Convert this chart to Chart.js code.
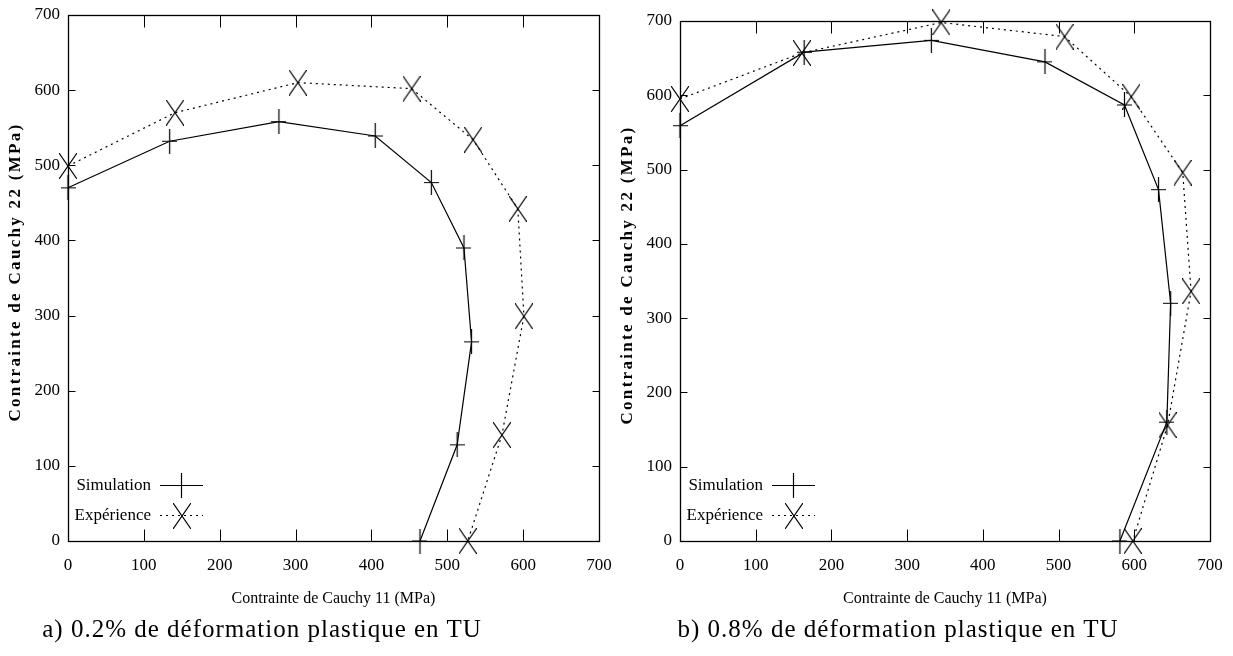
<!DOCTYPE html>
<html>
<head>
<meta charset="utf-8">
<script src="https://cdn.jsdelivr.net/npm/chart.js@4/dist/chart.umd.min.js"></script>
<style>
  body { margin: 0; background: #fff; }
  #wrap { position: relative; width: 1233px; height: 656px; overflow: hidden; }
  canvas { position: absolute; top: 0; }
  .caption { position: absolute; top: 615px; font: 25px "Liberation Serif", serif; letter-spacing: 1px; color: #000; white-space: nowrap; transform: translateX(-50%); }
</style>
</head>
<body>
<div id="wrap">
  <canvas id="chartA" width="612" height="656" style="left:0"></canvas>
  <canvas id="chartB" width="621" height="656" style="left:612px"></canvas>
  <div class="caption" style="left:262px">a) 0.2% de déformation plastique en TU</div>
  <div class="caption" style="left:898px">b) 0.8% de déformation plastique en TU</div>
</div>
<script>
// a) 0.2 % plastic strain
var simA_x = [0, 134, 278, 405, 479, 522, 532, 513, 464];
var simA_y = [470, 532, 558, 539, 477, 390, 265, 128, 0];
var expA_x = [0, 141, 303, 453, 534, 593, 601, 572, 527];
var expA_y = [499, 570, 610, 602, 534, 442, 299, 141, 0];
// b) 0.8 % plastic strain
var simB_x = [0, 164, 332, 482, 587, 632, 648, 643, 581];
var simB_y = [559, 658, 674, 645, 587, 473, 320, 160, 0];
var expB_x = [0, 161, 345, 508, 596, 664, 675, 644, 598];
var expB_y = [595, 657, 698, 679, 598, 496, 336, 156, 0];

var tickValues = [0, 100, 200, 300, 400, 500, 600, 700];
var seriesNames = ['Simulation', 'Expérience'];
var xTitle = 'Contrainte de Cauchy 11 (MPa)';
var yTitle = 'Contrainte de Cauchy 22 (MPa)';

function pts(xs, ys) {
  return xs.map(function (x, i) { return { x: x, y: ys[i] }; });
}

// gnuplot-like markers (the figure was stretched vertically)
function plusMark() {
  var c = document.createElement('canvas');
  c.width = 15; c.height = 25;
  var g = c.getContext('2d');
  g.strokeStyle = '#000'; g.lineWidth = 1.2;
  g.beginPath();
  g.moveTo(0, 12.5); g.lineTo(15, 12.5);
  g.moveTo(7.5, 0); g.lineTo(7.5, 25);
  g.stroke();
  return c;
}
function crossMark() {
  var c = document.createElement('canvas');
  c.width = 18; c.height = 26;
  var g = c.getContext('2d');
  g.strokeStyle = '#000'; g.lineWidth = 1.2;
  g.beginPath();
  g.moveTo(0, 0); g.lineTo(18, 26);
  g.moveTo(18, 0); g.lineTo(0, 26);
  g.stroke();
  return c;
}
var PLUS = plusMark();
var CROSS = crossMark();

// frame with inward ticks on all four sides
var frame = {
  id: 'frame',
  beforeDatasetsDraw: function (chart) {
    var ctx = chart.ctx, a = chart.chartArea;
    var xs = chart.scales.x, ys = chart.scales.y;
    var l = Math.round(a.left) + 0.5, r = Math.round(a.right) + 0.5;
    var t = Math.round(a.top) + 0.5, b = Math.round(a.bottom) + 0.5;
    ctx.save();
    ctx.strokeStyle = '#000';
    ctx.lineWidth = 1.3;
    ctx.strokeRect(l, t, r - l, b - t);
    ctx.lineWidth = 1;
    ctx.beginPath();
    tickValues.slice(1, -1).forEach(function (v) {
      var px = Math.round(xs.getPixelForValue(v)) + 0.5;
      ctx.moveTo(px, b); ctx.lineTo(px, b - 12);
      ctx.moveTo(px, t); ctx.lineTo(px, t + 12);
      var py = Math.round(ys.getPixelForValue(v)) + 0.5;
      ctx.moveTo(l, py); ctx.lineTo(l + 7, py);
      ctx.moveTo(r, py); ctx.lineTo(r - 7, py);
    });
    ctx.stroke();
    ctx.restore();
  }
};

// rotated, letter-spaced y title
var yLabel = {
  id: 'yLabel',
  afterDraw: function (chart) {
    var ctx = chart.ctx, a = chart.chartArea;
    ctx.save();
    ctx.translate(a.left - 52, (a.top + a.bottom) / 2 - 6);
    ctx.rotate(-Math.PI / 2);
    ctx.font = 'bold 17px "Liberation Serif"';
    ctx.letterSpacing = '2.3px';
    ctx.fillStyle = '#000';
    ctx.textAlign = 'center';
    ctx.textBaseline = 'middle';
    ctx.fillText(yTitle, 0, 0);
    ctx.restore();
  }
};

// gnuplot style key: text, then line sample with marker
var key = {
  id: 'key',
  afterDraw: function (chart) {
    var ctx = chart.ctx, a = chart.chartArea;
    chart.data.datasets.forEach(function (ds, i) {
      var y = Math.round(a.bottom - 56 + i * 30) + 0.5;
      ctx.save();
      ctx.font = '17px "Liberation Serif"';
      ctx.fillStyle = '#000';
      ctx.textAlign = 'right';
      ctx.textBaseline = 'middle';
      ctx.fillText(ds.label, a.left + 83, y);
      ctx.strokeStyle = '#000';
      ctx.lineWidth = ds.borderWidth;
      ctx.setLineDash(ds.borderDash || []);
      ctx.beginPath();
      ctx.moveTo(a.left + 92, y); ctx.lineTo(a.left + 135, y);
      ctx.stroke();
      var m = ds.pointStyle;
      ctx.drawImage(m, Math.round(a.left + 113.5 - m.width / 2), Math.round(y - m.height / 2));
      ctx.restore();
    });
  }
};

function makeChart(id, sim, exp, rightPad, topPad) {
  new Chart(document.getElementById(id), {
    type: 'scatter',
    data: {
      datasets: [{
        label: seriesNames[0],
        data: sim,
        showLine: true,
        borderColor: '#000',
        borderWidth: 1.2,
        pointStyle: PLUS,
        pointRadius: 8,
        clip: false
      }, {
        label: seriesNames[1],
        data: exp,
        showLine: true,
        borderColor: '#000',
        borderWidth: 1.2,
        borderDash: [2, 4],
        pointStyle: CROSS,
        pointRadius: 8,
        clip: false
      }]
    },
    options: {
      responsive: false,
      animation: false,
      devicePixelRatio: 1,
      layout: { padding: { top: topPad, right: rightPad, bottom: 44, left: 0 } },
      plugins: { legend: { display: false }, tooltip: { enabled: false } },
      scales: {
        x: {
          type: 'linear', min: 0, max: 700,
          grid: { display: false, drawTicks: false },
          border: { display: false },
          ticks: { stepSize: 100, padding: 14, color: '#000', maxRotation: 0,
                   font: { family: 'Liberation Serif', size: 17 } },
          title: { display: true, text: xTitle, color: '#000', padding: { top: 4, bottom: 4 },
                   font: { family: 'Liberation Serif', size: 16 } },
          afterFit: function (s) { s.height = 71; s.paddingLeft = 0; s.paddingRight = 0; }
        },
        y: {
          type: 'linear', min: 0, max: 700,
          grid: { display: false, drawTicks: false },
          border: { display: false },
          ticks: { stepSize: 100, padding: 8, color: '#000',
                   font: { family: 'Liberation Serif', size: 17 } },
          afterFit: function (s) { s.width = 68; s.paddingTop = 0; s.paddingBottom = 0; }
        }
      }
    },
    plugins: [frame, yLabel, key]
  });
}

makeChart('chartA', pts(simA_x, simA_y), pts(expA_x, expA_y), 13, 15);
makeChart('chartB', pts(simB_x, simB_y), pts(expB_x, expB_y), 23, 21);
</script>
</body>
</html>
